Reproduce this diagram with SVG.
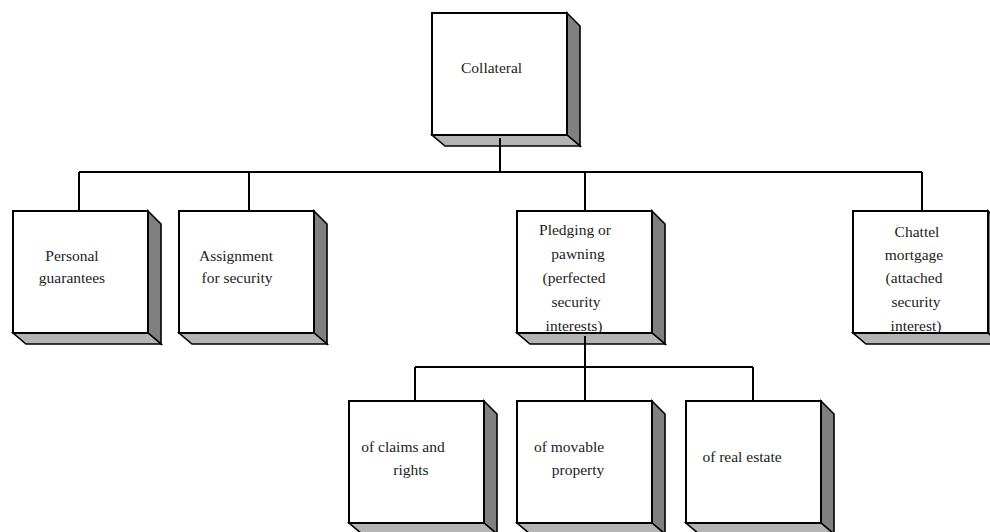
<svg xmlns="http://www.w3.org/2000/svg" width="990" height="532" viewBox="0 0 990 532">
<style>
.front{fill:#fff;stroke:#000;stroke-width:2}
.side{fill:#808080;stroke:#000;stroke-width:1.6;stroke-linejoin:miter}
.bottom{fill:#b4b4b4;stroke:#000;stroke-width:1.6;stroke-linejoin:miter}
.conn{stroke:#000;stroke-width:2;fill:none}
.t{font-family:'Liberation Serif','Times New Roman',Times,serif;font-size:15.5px;fill:#222}
.c{text-anchor:middle}
</style>
<defs>
<g id="cube">
<polygon class="side" points="135,0 148,13 148,133 135,122"/>
<polygon class="bottom" points="0,122 135,122 148,133 13,133"/>
<rect class="front" x="0" y="0" width="135" height="122"/>
</g>
</defs>
<rect width="990" height="532" fill="#fff"/>
<g font-family="Liberation Serif, Times New Roman, serif" font-size="15.5">
<g id="collateral">
<use href="#cube" x="432" y="13"/>
<text class="t" x="461" y="73">Collateral</text>
</g>
<g id="personal">
<use href="#cube" x="13" y="211"/>
<text class="t c" x="72" y="261">Personal</text>
<text class="t c" x="72" y="283">guarantees</text>
</g>
<g id="assignment">
<use href="#cube" x="179" y="211"/>
<text class="t c" x="236" y="261">Assignment</text>
<text class="t c" x="237" y="283">for security</text>
</g>
<g id="pledging">
<use href="#cube" x="517" y="211"/>
<text class="t c" x="575" y="235">Pledging or</text>
<text class="t c" x="578" y="259">pawning</text>
<text class="t c" x="574" y="283">(perfected</text>
<text class="t c" x="576" y="307">security</text>
<text class="t c" x="574" y="331">interests)</text>
</g>
<g id="chattel">
<use href="#cube" x="853" y="211"/>
<text class="t c" x="917" y="237">Chattel</text>
<text class="t c" x="914" y="260">mortgage</text>
<text class="t c" x="914" y="283">(attached</text>
<text class="t c" x="916" y="307">security</text>
<text class="t c" x="916" y="331">interest)</text>
</g>
<g id="claims">
<use href="#cube" x="349" y="401"/>
<text class="t c" x="403" y="452">of claims and</text>
<text class="t c" x="411" y="475">rights</text>
</g>
<g id="movable">
<use href="#cube" x="517" y="401"/>
<text class="t c" x="569" y="452">of movable</text>
<text class="t c" x="578" y="475">property</text>
</g>
<g id="realestate">
<use href="#cube" x="686" y="401"/>
<text class="t c" x="742" y="462">of real estate</text>
</g>
</g>
<g id="connectors">
<path class="conn" d="M500,138 V172 M79,172 H922 M79,172 V211 M249,172 V211 M585,172 V211 M922,172 V211"/>
<path class="conn" d="M585,336 V367 M415,367 H753 M415,367 V401 M585,367 V401 M753,367 V401"/>
</g>
</svg>
